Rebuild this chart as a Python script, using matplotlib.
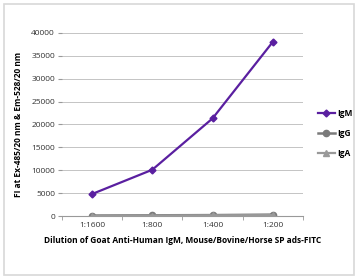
import matplotlib
matplotlib.use("Agg")
import matplotlib.pyplot as plt
from matplotlib.patches import Rectangle
from matplotlib.ticker import FixedLocator

categories = ["1:1600", "1:800", "1:400", "1:200"]
igm = [4800, 10100, 21300, 38000]
igg = [100, 150, 200, 300]
iga = [50, 100, 150, 200]
yticks = [0, 5000, 10000, 15000, 20000, 25000, 30000, 35000, 40000]

plt.rcParams['font.family'] = ['Open Sans', 'DejaVu Sans']

fig = plt.figure(figsize=(3.58, 2.78), dpi=100)
fig.patches.append(Rectangle((0.012, 0.012), 0.976, 0.975, transform=fig.transFigure,
                             fill=False, edgecolor='#d8d8d8', linewidth=1.2))
ax = fig.add_axes([0.173, 0.223, 0.673, 0.659])

x = list(range(len(categories)))
ax.plot(x, igm, color='#5a1fa0', marker='D', markersize=3.5, linewidth=1.6, label='IgM')
ax.plot(x, igg, color='#7a7a7a', marker='o', markersize=4.5, linewidth=1.8, label='IgG')
ax.plot(x, iga, color='#999999', marker='^', markersize=4, linewidth=1.6, label='IgA')

ax.set_xlim(-0.5, len(categories) - 0.5)
ax.set_ylim(0, 40000)
ax.set_yticks(yticks)
ax.set_yticklabels([str(v) for v in yticks])
ax.set_xticks(x)
ax.set_xticklabels(categories)
ax.xaxis.set_minor_locator(FixedLocator([-0.5, 0.5, 1.5, 2.5, 3.5]))
ax.tick_params(axis='x', which='major', length=0, labelsize=6, colors='#333333', pad=4)
ax.tick_params(axis='x', which='minor', length=3, color='#999999', direction='out')
ax.tick_params(axis='y', length=3, color='#999999', labelsize=6, labelcolor='#333333', pad=2)
ax.grid(axis='y', color='#c4c4c4', linewidth=0.7)
ax.set_axisbelow(True)
for s in ['top', 'right']:
    ax.spines[s].set_visible(False)
ax.spines['left'].set_visible(False)
ax.spines['bottom'].set_color('#999999')

ax.set_ylabel('FI at Ex-485/20 nm & Em-528/20 nm', fontsize=6, fontweight='bold', labelpad=6)
ax.set_xlabel('Dilution of Goat Anti-Human IgM, Mouse/Bovine/Horse SP ads-FITC',
              fontsize=6, fontweight='bold', labelpad=5)

leg = ax.legend(loc='center left', bbox_to_anchor=(1.0, 0.45), frameon=False,
                prop={'size': 6, 'weight': 'bold'}, handlelength=2.0, labelspacing=1.35,
                handletextpad=0.3, borderaxespad=1.4)

fig.savefig('out.png', dpi=100)
